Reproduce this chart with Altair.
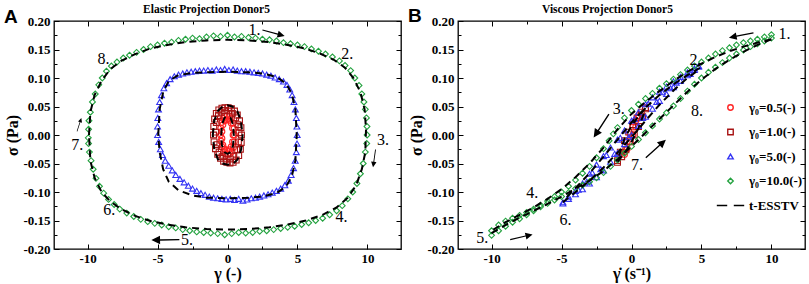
import altair as alt
import pandas as pd

SERIF = "Liberation Serif"
NAMES = ["γ₀=0.5(-)", "γ₀=1.0(-)", "γ₀=5.0(-)", "γ₀=10.0(-)", "t-ESSTV"]
COLORS = ["#ff2424", "#a81414", "#3434f4", "#23a23f", "#000000"]
DASH_SYM = "M-5,0H-1.2M1.2,0H5"
SHAPES = ["circle", "square", "triangle-up", "diamond", DASH_SYM]
ARROW = "M-1,-0.05L0.38,-0.05L0.38,-0.3L1,0L0.38,0.3L0.38,0.05L-1,0.05Z"

# ---------------- Panel A : elastic projection (sigma vs gamma) ----------------
A10 = [(-9.95,-0.005),(-9.93,0.010),(-9.90,0.025),(-9.80,0.040),(-9.65,0.058),(-9.45,0.072),(-9.20,0.088),
       (-8.95,0.100),(-8.65,0.112),(-8.30,0.121),(-7.90,0.128),(-7.45,0.135),(-7.00,0.140),(-6.50,0.145),
       (-6.00,0.150),(-5.50,0.155),(-5.00,0.158),(-4.50,0.161),(-4.00,0.163),(-3.50,0.166),(-3.00,0.168),
       (-2.50,0.170),(-2.00,0.169),(-1.50,0.172),(-1.00,0.174),(-0.50,0.173),(0.00,0.175),(0.50,0.172),
       (1.00,0.173),(1.50,0.171),(2.00,0.170),(2.50,0.168),(3.00,0.167),(3.50,0.165),(4.00,0.162),
       (4.50,0.160),(5.00,0.158),(5.50,0.155),(6.00,0.151),(6.50,0.147),(7.00,0.142),(7.50,0.137),
       (8.00,0.130),(8.40,0.122),(8.80,0.113),(9.10,0.100),(9.40,0.087),(9.60,0.072),(9.75,0.058),
       (9.85,0.045),(9.93,0.030),(9.97,0.015),(9.98,0.000),
       (9.95,-0.015),(9.85,-0.030),(9.70,-0.050),(9.50,-0.068),(9.25,-0.085),(8.95,-0.100),(8.60,-0.112),
       (8.20,-0.124),(7.80,-0.133),(7.30,-0.140),(6.80,-0.146),(6.30,-0.150),(5.80,-0.154),(5.30,-0.157),
       (4.80,-0.160),(4.30,-0.162),(3.80,-0.164),(3.30,-0.166),(2.80,-0.168),(2.30,-0.169),(1.80,-0.171),
       (1.30,-0.172),(0.80,-0.171),(0.30,-0.173),(-0.20,-0.175),(-0.70,-0.173),(-1.20,-0.172),(-1.70,-0.171),
       (-2.20,-0.170),(-2.70,-0.168),(-3.20,-0.166),(-3.70,-0.163),(-4.20,-0.161),(-4.70,-0.158),
       (-5.20,-0.155),(-5.70,-0.152),(-6.20,-0.148),(-6.70,-0.143),(-7.20,-0.137),(-7.70,-0.130),
       (-8.10,-0.122),(-8.50,-0.113),(-8.85,-0.102),(-9.15,-0.090),(-9.40,-0.076),(-9.60,-0.060),
       (-9.75,-0.045),(-9.87,-0.030),(-9.93,-0.015)]
A5 = [(-5.00,0.000),(-5.00,0.015),(-4.98,0.030),(-4.93,0.045),(-4.85,0.058),(-4.72,0.070),(-4.55,0.082),
      (-4.35,0.091),(-4.10,0.098),(-3.80,0.103),(-3.50,0.106),(-3.20,0.108),(-2.90,0.110),(-2.60,0.111),
      (-2.30,0.112),(-2.00,0.113),(-1.70,0.113),(-1.40,0.114),(-1.10,0.113),(-0.80,0.115),(-0.50,0.114),
      (-0.20,0.116),(0.10,0.114),(0.40,0.115),(0.70,0.113),(1.00,0.112),(1.30,0.112),(1.60,0.111),
      (1.90,0.110),(2.20,0.109),(2.50,0.108),(2.80,0.106),(3.10,0.104),(3.40,0.101),(3.70,0.098),
      (4.00,0.094),(4.25,0.088),(4.45,0.080),(4.62,0.070),(4.75,0.058),(4.85,0.045),(4.92,0.030),
      (4.96,0.015),(4.98,0.000),(4.97,-0.015),(4.92,-0.030),(4.84,-0.045),(4.72,-0.058),(4.55,-0.070),
      (4.35,-0.080),(4.10,-0.088),(3.80,-0.094),(3.50,-0.098),(3.20,-0.101),(2.90,-0.104),(2.60,-0.106),
      (2.30,-0.108),(2.00,-0.110),(1.70,-0.111),(1.40,-0.113),(1.10,-0.115),(0.80,-0.112),(0.50,-0.114),
      (0.20,-0.112),(-0.10,-0.113),(-0.40,-0.112),(-0.70,-0.111),(-1.00,-0.110),(-1.30,-0.108),
      (-1.60,-0.105),(-1.90,-0.102),(-2.20,-0.098),(-2.50,-0.094),(-2.80,-0.089),(-3.10,-0.083),
      (-3.40,-0.077),(-3.70,-0.070),(-3.95,-0.062),(-4.20,-0.054),(-4.45,-0.045),(-4.65,-0.035),
      (-4.80,-0.025),(-4.92,-0.012)]
A1 = [(-1.00,0.000),(-0.98,0.015),(-0.92,0.028),(-0.80,0.038),(-0.62,0.044),(-0.40,0.047),(-0.18,0.048),
      (0.05,0.048),(0.28,0.046),(0.50,0.042),(0.70,0.035),(0.86,0.025),(0.96,0.013),(1.00,0.000),
      (0.98,-0.013),(0.92,-0.025),(0.80,-0.036),(0.62,-0.044),(0.40,-0.048),(0.18,-0.049),(-0.05,-0.048),
      (-0.28,-0.046),(-0.50,-0.041),(-0.70,-0.034),(-0.86,-0.024),(-0.96,-0.012),
      (-0.85,0.005),(-0.80,0.022),(-0.65,0.034),(-0.45,0.040),(-0.20,0.043),(0.10,0.042),(0.35,0.038),
      (0.58,0.030),(0.75,0.018),(0.82,0.004),(0.78,-0.012),(0.66,-0.026),(0.45,-0.037),(0.20,-0.042),
      (-0.10,-0.042),(-0.38,-0.038),(-0.60,-0.030),(-0.76,-0.017)]
A05 = [(-0.50,0.000),(-0.48,0.012),(-0.42,0.022),(-0.32,0.029),(-0.18,0.033),(-0.02,0.034),(0.14,0.033),
       (0.28,0.029),(0.40,0.021),(0.47,0.011),(0.50,0.000),(0.48,-0.012),(0.42,-0.022),(0.32,-0.029),
       (0.18,-0.033),(0.02,-0.034),(-0.14,-0.033),(-0.28,-0.029),(-0.40,-0.021),(-0.47,-0.011),
       (-0.40,0.006),(-0.33,0.018),(-0.20,0.025),(-0.04,0.027),(0.12,0.026),(0.26,0.021),(0.36,0.012),
       (0.40,0.000),(0.36,-0.012),(0.26,-0.021),(0.12,-0.026),(-0.04,-0.027),(-0.20,-0.025),(-0.33,-0.018),
       (-0.40,-0.006)]
# model (t-ESSTV) curves, panel A
AM10 = [(-9.9,0.0),(-9.8,0.04),(-9.5,0.07),(-9.0,0.095),(-8.4,0.115),(-7.6,0.13),(-6.6,0.142),(-5.5,0.152),
        (-4.3,0.158),(-3.0,0.163),(-1.5,0.166),(0.0,0.167),(1.5,0.166),(3.0,0.163),(4.3,0.158),(5.5,0.152),
        (6.6,0.143),(7.6,0.132),(8.4,0.118),(9.0,0.1),(9.5,0.075),(9.8,0.045),(9.9,0.01),(9.85,-0.03),
        (9.6,-0.06),(9.2,-0.088),(8.6,-0.11),(7.8,-0.127),(6.8,-0.14),(5.6,-0.15),(4.3,-0.157),(3.0,-0.162),
        (1.5,-0.165),(0.0,-0.166),(-1.5,-0.165),(-3.0,-0.162),(-4.3,-0.157),(-5.5,-0.151),(-6.6,-0.142),
        (-7.6,-0.13),(-8.4,-0.116),(-9.0,-0.1),(-9.5,-0.075),(-9.8,-0.045),(-9.9,0.0)]
AM5 = [(-4.95,0.0),(-4.85,0.045),(-4.6,0.075),(-4.2,0.095),(-3.5,0.105),(-2.5,0.109),(-1.5,0.11),(0.0,0.111),
       (1.5,0.11),(2.5,0.108),(3.5,0.102),(4.2,0.09),(4.6,0.072),(4.85,0.045),(4.95,0.0),(4.85,-0.045),
       (4.6,-0.072),(4.2,-0.09),(3.5,-0.102),(2.5,-0.108),(1.5,-0.11),(0.0,-0.111),(-1.5,-0.11),
       (-2.5,-0.106),(-3.5,-0.097),(-4.2,-0.082),(-4.6,-0.06),(-4.85,-0.03),(-4.95,0.0)]
AM1 = [(-1.05,0.0),(-0.95,0.025),(-0.7,0.042),(-0.35,0.05),(0.0,0.052),(0.35,0.05),(0.7,0.042),(0.95,0.026),
       (1.08,0.0),(0.97,-0.026),(0.72,-0.043),(0.36,-0.051),(0.0,-0.052),(-0.35,-0.05),(-0.7,-0.042),
       (-0.95,-0.025),(-1.05,0.0)]
AM05 = [(-0.45,0.0),(-0.4,0.018),(-0.22,0.03),(0.0,0.033),(0.22,0.03),(0.4,0.018),(0.45,0.0),(0.4,-0.018),
        (0.22,-0.03),(0.0,-0.033),(-0.22,-0.03),(-0.4,-0.018),(-0.45,0.0)]
A_LABELS = [("1.",1.93,0.185),("2.",8.55,0.142),("3.",11.12,-0.008),("4.",8.14,-0.144),
            ("5.",-2.9,-0.184),("6.",-8.45,-0.132),("7.",-10.74,-0.017),("8.",-8.86,0.134)]
# arrows: (x, y, direction in degrees, length)
A_ARROWS = [(3.29,0.179,15,23),(10.49,-0.041,98,18),(-4.44,-0.184,179,28),(-10.6,0.018,288,14)]

# ---------------- Panel B : viscous projection (sigma vs gamma-dot) ----------------
B10 = [(10,0.176),(9.5,0.172),(9,0.168),(8.5,0.165),(8,0.162),(7.5,0.158),(7,0.153),(6.5,0.148),(6,0.142),
       (5.5,0.135),(5,0.128),(4.5,0.121),(4,0.114),(3.5,0.106),(3,0.098),(2.5,0.09),(2,0.082),(1.5,0.073),
       (1,0.064),(0.5,0.054),(0,0.043),(-0.5,0.03),(-1.0,0.013),(-1.3,0.002),(-1.6,-0.01),(-2.0,-0.024),
       (-2.5,-0.04),(-3,-0.055),(-3.5,-0.067),(-4,-0.079),(-4.5,-0.09),(-5,-0.1),(-5.5,-0.108),(-6,-0.116),
       (-6.5,-0.123),(-7,-0.13),(-7.5,-0.136),(-8,-0.141),(-8.5,-0.146),(-9,-0.151),(-9.5,-0.158),(-10,-0.168),
       (-10,-0.176),(-9.5,-0.168),(-9,-0.16),(-8.5,-0.153),(-8,-0.147),(-7.5,-0.14),(-7,-0.133),(-6.5,-0.126),
       (-6,-0.12),(-5.5,-0.114),(-5,-0.108),(-4.5,-0.101),(-4,-0.094),(-3.5,-0.088),(-3,-0.082),(-2.5,-0.075),
       (-2,-0.066),(-1.5,-0.055),(-1,-0.044),(-0.5,-0.032),(0,-0.02),(0.5,-0.008),(1.0,0.004),(1.5,0.016),
       (2,0.028),(2.5,0.039),(3,0.051),(3.5,0.064),(4,0.077),(4.5,0.089),(5,0.1),(5.5,0.11),(6,0.119),
       (6.5,0.127),(7,0.135),(7.5,0.142),(8,0.149),(8.5,0.155),(9,0.16),(9.5,0.165),(10,0.17)]
B5 = [(4.8,0.121),(4.5,0.117),(4,0.11),(3.5,0.102),(3,0.094),(2.5,0.085),(2,0.076),(1.5,0.066),(1,0.054),
      (0.5,0.04),(0,0.025),(-0.5,0.008),(-1,-0.008),(-1.5,-0.022),(-2,-0.037),(-2.5,-0.052),(-3,-0.068),
      (-3.5,-0.085),(-4,-0.098),(-4.5,-0.108),(-4.9,-0.118),
      (-4.9,-0.12),(-4.5,-0.112),(-4,-0.104),(-3.5,-0.095),(-3,-0.085),(-2.5,-0.074),(-2,-0.062),
      (-1.5,-0.047),(-1,-0.032),(-0.5,-0.016),(0,0.0),(0.5,0.016),(1,0.032),(1.5,0.046),(2,0.06),
      (2.5,0.072),(3,0.084),(3.5,0.095),(4,0.105),(4.5,0.114),(4.8,0.12),
      (4.2,0.107),(3.2,0.092),(2.2,0.075),(1.2,0.055),(0.2,0.028),(-0.8,-0.005),(-1.8,-0.035),
      (-2.8,-0.066),(-3.8,-0.096),(-3.2,-0.082),(-2.2,-0.06),(-1.2,-0.033),(-0.2,-0.004),(0.8,0.03),
      (1.8,0.058),(2.8,0.082)]
B1 = [(1,0.048),(0.7,0.04),(0.4,0.03),(0.1,0.018),(-0.2,0.005),(-0.5,-0.01),(-0.8,-0.03),(-1,-0.045),
      (-1,-0.048),(-0.7,-0.038),(-0.4,-0.026),(-0.1,-0.012),(0.2,0.0),(0.5,0.015),(0.8,0.032),(1,0.046)]
B05 = [(0.5,0.034),(0.3,0.025),(0.1,0.014),(-0.1,0.002),(-0.3,-0.012),(-0.5,-0.03),
       (-0.5,-0.034),(-0.3,-0.024),(-0.1,-0.012),(0.1,0.0),(0.3,0.014),(0.5,0.03)]
BM10_UP = [(10,0.168),(9,0.162),(8,0.155),(7,0.147),(6,0.137),(5,0.125),(4,0.111),(3,0.095),(2,0.077),
           (1,0.058),(0,0.037),(-1,0.01),(-2,-0.022),(-3,-0.05),(-4,-0.074),(-5,-0.095),(-6,-0.112),
           (-7,-0.127),(-8,-0.14),(-9,-0.153),(-10,-0.168)]
BM10_LO = [(-10,-0.172),(-9,-0.158),(-8,-0.145),(-7,-0.133),(-6,-0.121),(-5,-0.108),(-4,-0.094),(-3,-0.08),
           (-2,-0.063),(-1,-0.043),(0,-0.02),(1,0.004),(2,0.028),(3,0.052),(4,0.076),(5,0.097),(6,0.116),
           (7,0.132),(8,0.146),(9,0.158),(10,0.168)]
BM5_UP = [(4.9,0.118),(4,0.105),(3,0.089),(2,0.07),(1,0.048),(0,0.022),(-1,-0.008),(-2,-0.038),(-3,-0.067),
          (-4,-0.093),(-4.9,-0.116)]
BM5_LO = [(-4.9,-0.118),(-4,-0.1),(-3,-0.08),(-2,-0.057),(-1,-0.031),(0,-0.004),(1,0.025),(2,0.053),
          (3,0.078),(4,0.1),(4.9,0.116)]
BM1_UP = [(1.0,0.047),(0.5,0.033),(0.0,0.016),(-0.5,-0.006),(-1.0,-0.045)]
BM1_LO = [(-1.0,-0.047),(-0.5,-0.032),(0.0,-0.012),(0.5,0.012),(1.0,0.045)]
B_LABELS = [("1.",10.94,0.177),("2.",4.57,0.131),("3.",-0.91,0.045),("8.",4.69,0.042),
            ("4.",-7.1,-0.102),("5.",-10.67,-0.181),("6.",-4.71,-0.149),("7.",0.4,-0.053)]
B_ARROWS = [(7.84,0.175,169,25),(-2.16,0.016,123,28),(-7.87,-0.179,347,23),(1.74,-0.024,318,27)]

MAJOR_X = [-10, -5, 0, 5, 10]
MINOR_X = [-7.5, -2.5, 2.5, 7.5]
MAJOR_Y = [-0.2, -0.15, -0.1, -0.05, 0.0, 0.05, 0.1, 0.15, 0.2]
MINOR_Y = [-0.175, -0.125, -0.075, -0.025, 0.025, 0.075, 0.125, 0.175]


def pts_df(series):
    rows = []
    for name, pairs in series:
        for x, y in pairs:
            rows.append({"x": x, "y": y, "s": name})
    return pd.DataFrame(rows)


def lines_df(curves):
    rows = []
    for cid, pairs in enumerate(curves):
        for i, (x, y) in enumerate(pairs):
            rows.append({"x": x, "y": y, "c": cid, "o": i})
    return pd.DataFrame(rows)


def tick_axis(orient, values, size, **kw):
    opts = dict(orient=orient, values=values, tickSize=size, offset=-size, domain=False,
                labels=False, grid=False, tickColor="black", tickWidth=1)
    opts.update(kw)
    if "title" not in opts:
        opts["title"] = None
    return alt.Axis(**opts)


def panel(points, curves, labels, arrows, letter, title, title_x, xtitle, legend):
    xs = alt.Scale(domain=[-12.4, 12.4], nice=False, zero=False)
    ys = alt.Scale(domain=[-0.2, 0.2], nice=False, zero=False)
    ax_b = alt.Axis(orient="bottom", values=MAJOR_X, tickSize=5, offset=-5, domain=False, grid=False,
                    tickColor="black", labelColor="black",
                    labelExpr="(datum.value < 0 ? '-' : '') + format(abs(datum.value), 'd')",
                    labelFont=SERIF, labelFontWeight="bold", labelFontSize=13, labelPadding=3,
                    title=xtitle, titleFont=SERIF, titleFontSize=16, titleFontWeight="bold",
                    titleColor="black", titlePadding=0)
    ax_l = alt.Axis(orient="left", values=MAJOR_Y, tickSize=5, offset=-5, domain=False, grid=False,
                    tickColor="black", labelColor="black",
                    labelExpr="(datum.value < 0 ? '-' : '') + format(abs(datum.value), '.2f')",
                    labelFont=SERIF, labelFontWeight="bold", labelFontSize=13, labelPadding=4,
                    title="σ (Pa)", titleFont=SERIF, titleFontSize=16, titleFontWeight="bold",
                    titleColor="black", titlePadding=2)
    ax_t = tick_axis("top", MAJOR_X, 5, title=title, titleFont=SERIF, titleFontSize=11.5,
                     titleFontWeight="bold", titleColor="black", titleX=title_x, titleY=-17,
                     titleBaseline="middle", titleAlign="center")
    color = alt.Color("s:N", scale=alt.Scale(domain=NAMES, range=COLORS), legend=legend)
    shape = alt.Shape("s:N", scale=alt.Scale(domain=NAMES, range=SHAPES), legend=legend)

    pts = alt.Chart(points).mark_point(filled=False, size=34, strokeWidth=1.1, opacity=1).encode(
        x=alt.X("x:Q", scale=xs, axis=ax_b),
        y=alt.Y("y:Q", scale=ys, axis=ax_l),
        color=color, shape=shape)
    lines = alt.Chart(curves).mark_line(strokeDash=[7, 5], strokeWidth=2, color="black").encode(
        x=alt.X("x:Q", scale=xs, axis=ax_t),
        y=alt.Y("y:Q", scale=ys, axis=tick_axis("right", MAJOR_Y, 5)),
        detail="c:N", order="o:Q")
    texts = alt.Chart(labels).mark_text(font=SERIF, fontSize=16, color="black").encode(
        x=alt.X("x:Q", scale=xs, axis=tick_axis("bottom", MINOR_X, 3)),
        y=alt.Y("y:Q", scale=ys, axis=tick_axis("left", MINOR_Y, 3)),
        text="t:N")
    arr = alt.Chart(arrows).mark_point(shape=ARROW, filled=True, color="black", opacity=1,
                                       strokeWidth=0).encode(
        x=alt.X("x:Q", scale=xs, axis=tick_axis("top", MINOR_X, 3)),
        y=alt.Y("y:Q", scale=ys, axis=tick_axis("right", MINOR_Y, 3)),
        angle=alt.Angle("a:Q", scale=None),
        size=alt.Size("sz:Q", scale=None))
    let = alt.Chart(letter).mark_text(font="Liberation Sans", fontWeight="bold", fontSize=19,
                                      color="black").encode(
        x=alt.X("x:Q", scale=xs, axis=None),
        y=alt.Y("y:Q", scale=ys, axis=None),
        text="t:N")
    return alt.layer(pts, lines, texts, arr, let).resolve_axis(
        x="independent", y="independent").properties(width=347, height=228)


def lab_df(items):
    return pd.DataFrame({"t": [i[0] for i in items], "x": [i[1] for i in items], "y": [i[2] for i in items]})


def arr_df(items):
    return pd.DataFrame({"x": [i[0] for i in items], "y": [i[1] for i in items],
                         "a": [i[2] for i in items], "sz": [i[3] ** 2 for i in items]})


legendB = alt.Legend(orient="none", legendX=266, legendY=80, title=None, labelFont=SERIF,
                     labelFontSize=13, labelFontWeight="bold", labelColor="black",
                     symbolSize=30, symbolStrokeWidth=1.4, rowPadding=10.5, labelOffset=12)

panelA = panel(
    pts_df([(NAMES[0], A05), (NAMES[1], A1), (NAMES[2], A5), (NAMES[3], A10)]),
    lines_df([AM10, AM5, AM1, AM05]),
    lab_df(A_LABELS), arr_df(A_ARROWS),
    lab_df([("A", -15.48, 0.207)]),
    "Elastic Projection Donor5", 152, "γ (-)", None)

panelB = panel(
    pts_df([(NAMES[0], B05), (NAMES[1], B1), (NAMES[2], B5), (NAMES[3], B10)]),
    lines_df([BM10_UP, BM10_LO, BM5_UP, BM5_LO, BM1_UP, BM1_LO]),
    lab_df(B_LABELS), arr_df(B_ARROWS),
    lab_df([("B", -15.49, 0.209)]),
    "Viscous Projection Donor5", 149, "γ̇ (s⁻¹)", legendB)

chart = alt.hconcat(panelA, panelB, spacing=4).resolve_scale(
    color="independent", shape="independent").properties(
    padding={"left": 3, "top": 2, "right": 2, "bottom": 2}).configure_view(
    stroke="black", strokeWidth=1.3)

chart.save("out.html", embed_options={"renderer": "svg", "actions": False})
